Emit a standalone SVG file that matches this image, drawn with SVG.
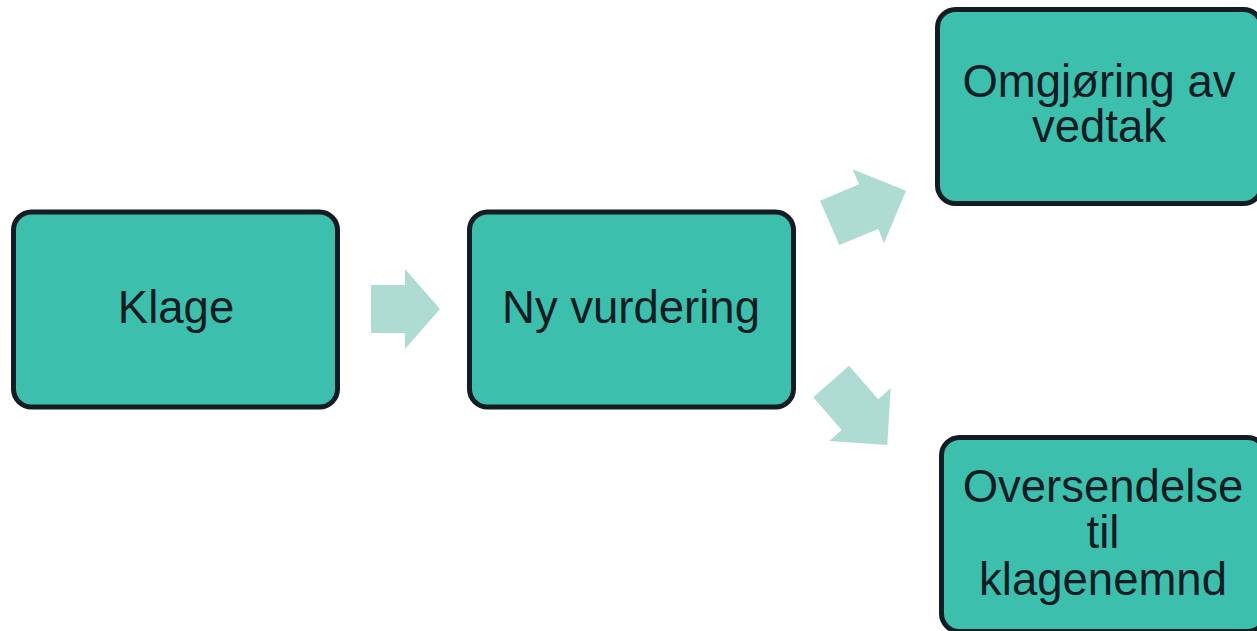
<svg xmlns="http://www.w3.org/2000/svg" width="1257" height="631" viewBox="0 0 1257 631">
<style>
.box{fill:#3dbfad;stroke:#121c23;stroke-width:5}
.lbl{font-family:"Liberation Sans",Arial,sans-serif;font-size:45.5px;fill:#121c23;text-anchor:middle}
.arr{fill:#aedcd3}
</style>
<rect width="1257" height="631" fill="#ffffff"/>
<g id="connectors">
<polygon class="arr" points="371,285 405,285 405,269 440,309 405,349 405,333 371,333"/>
<polygon class="arr" points="820,200.7 859,184.3 852.7,169.3 906,190.7 884,243.3 878.3,229 839.3,245"/>
<polygon class="arr" points="849,365.7 878.3,399.3 890.7,388.3 887.3,445 829.3,441 841.7,430 813.3,397.3"/>
</g>
<g id="node-klage">
<rect class="box" x="13.5" y="212" width="324" height="195" rx="18"/>
<text class="lbl" x="176" y="323">Klage</text>
</g>
<g id="node-ny-vurdering">
<rect class="box" x="469.5" y="212" width="324" height="195" rx="18"/>
<text class="lbl" x="631" y="323">Ny vurdering</text>
</g>
<g id="node-omgjoring">
<rect class="box" x="937.5" y="9.5" width="324" height="194" rx="18"/>
<text class="lbl" x="1099" y="97">Omgjøring av</text>
<text class="lbl" x="1099" y="142">vedtak</text>
</g>
<g id="node-oversendelse">
<rect class="box" x="941.5" y="437.5" width="324" height="194" rx="18"/>
<text class="lbl" x="1103" y="502">Oversendelse</text>
<text class="lbl" x="1103" y="548">til</text>
<text class="lbl" x="1103" y="595">klagenemnd</text>
</g>
</svg>
